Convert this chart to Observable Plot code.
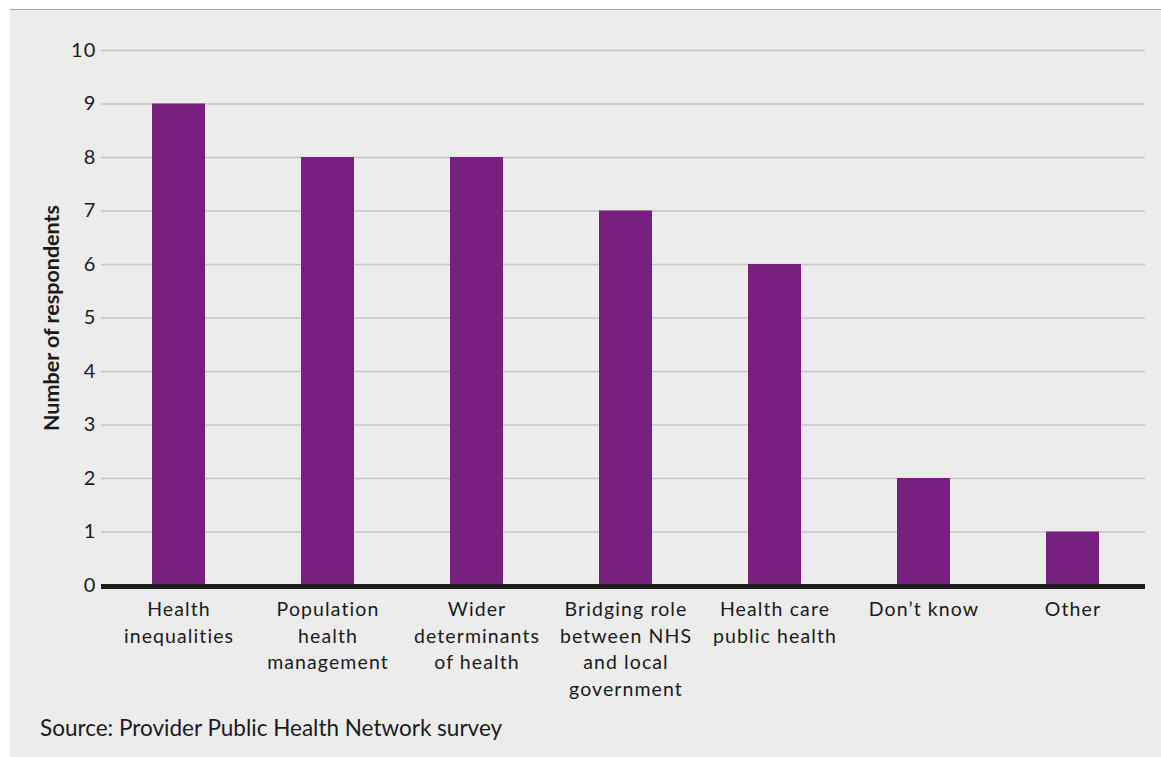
<!DOCTYPE html>
<html>
<head>
<meta charset="utf-8">
<script src="https://cdn.jsdelivr.net/npm/d3@7"></script>
<script src="https://cdn.jsdelivr.net/npm/@observablehq/plot@0.6"></script>
<style>
  html, body { margin: 0; padding: 0; background: #ffffff; }
  body { width: 1161px; height: 757px; position: relative; overflow: hidden; font-family: Lato, "Noto Sans", sans-serif; }
  #panel { position: absolute; left: 10px; top: 9px; width: 1151px; height: 748px; background: #ececec; border-top: 1px solid #a3a3a3; box-sizing: border-box; }
  #chart { position: absolute; left: 0; top: 0; }
  #source { position: absolute; left: 30px; top: 707px; font-size: 22.5px; line-height: 1; color: #1a1a1a; font-family: Lato, sans-serif; white-space: nowrap; }
  #chart svg .xlab text, #chart svg .ylab text { letter-spacing: 1.1px; }
</style>
</head>
<body>
<div id="panel">
  <div id="chart"></div>
  <div id="source">Source: Provider Public Health Network survey</div>
</div>
<script>
const categories = [
  "Health\ninequalities",
  "Population\nhealth\nmanagement",
  "Wider\ndeterminants\nof health",
  "Bridging role\nbetween NHS\nand local\ngovernment",
  "Health care\npublic health",
  "Don\u2019t know",
  "Other"
];
const respondents = [9, 8, 8, 7, 6, 2, 1];
const yTicks = [0, 1, 2, 3, 4, 5, 6, 7, 8, 9, 10];
const yLabel = "Number of respondents";

const data = categories.map((c, i) => ({category: c, value: respondents[i]}));

const chart = Plot.plot({
  width: 1151,
  height: 700,
  marginLeft: 91,
  marginRight: 16,
  marginTop: 40,
  marginBottom: 125,
  style: {background: "transparent", fontFamily: "Lato, sans-serif", fontSize: "19.5px", color: "#1a1a1a"},
  x: {domain: categories, paddingInner: 0.6443, paddingOuter: 0.317, align: 0.526},
  y: {domain: [0, 10]},
  marks: [
    Plot.gridY(yTicks, {stroke: "#c4c4c4", strokeOpacity: 1, strokeWidth: 1.5}),
    Plot.barY(data, {x: "category", y: "value", fill: "#78207f"}),
    Plot.ruleY([0], {stroke: "#1c1c1c", strokeWidth: 5, dy: 1}),
    Plot.axisY(yTicks, {tickSize: 0, tickPadding: 5, label: null, fontSize: 20, className: "ylab", tickFormat: d => String(d)}),
    Plot.axisX({tickSize: 0, tickPadding: 12, label: null, fontSize: 19.5, lineHeight: 1.36, className: "xlab", tickFormat: d => d}),
    Plot.text([yLabel], {frameAnchor: "left", dx: -49, rotate: -90, textAnchor: "middle", text: d => d, fontSize: 21.5, fontWeight: "bold", fill: "#1a1a1a"})
  ]
});
document.getElementById("chart").appendChild(chart);
</script>
</body>
</html>
